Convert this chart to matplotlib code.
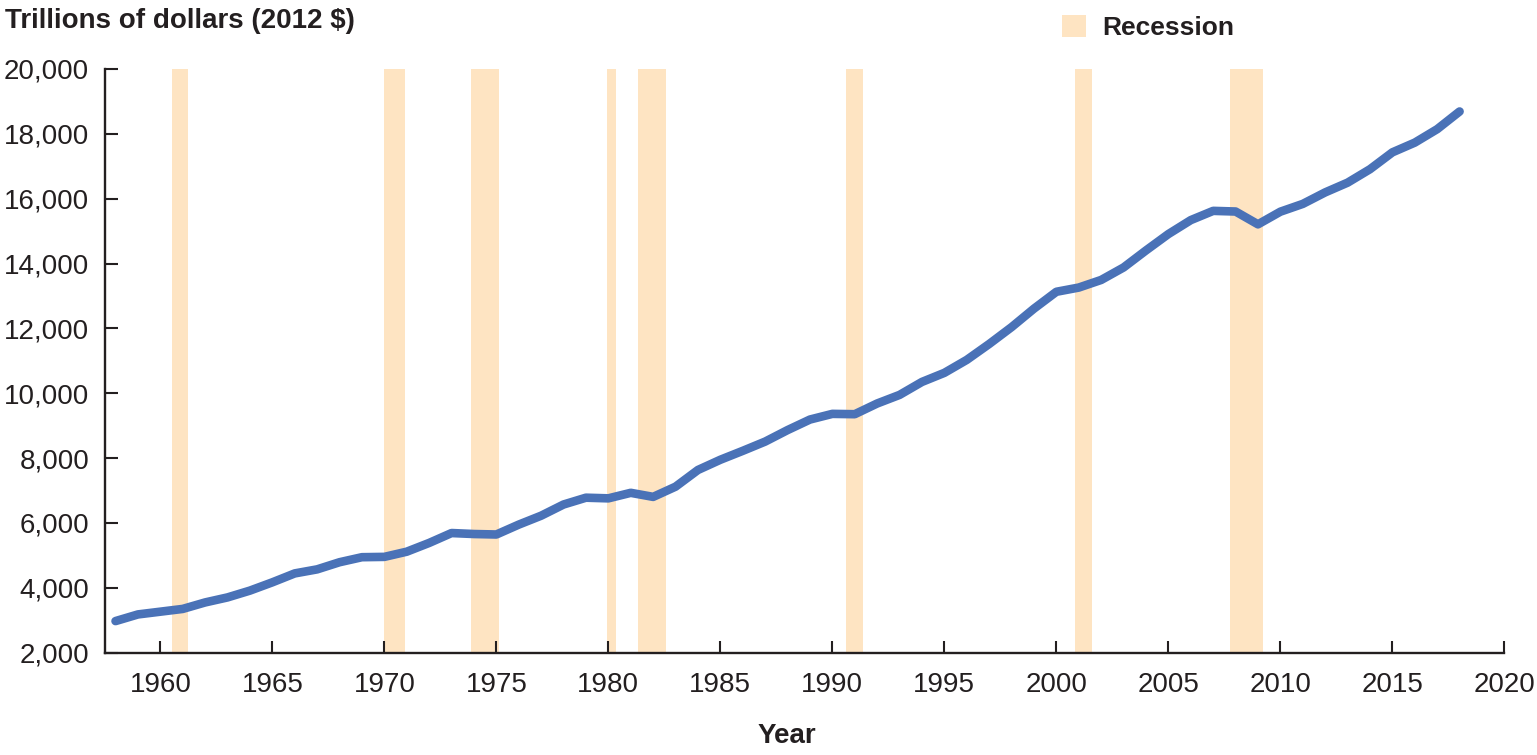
import numpy as np
import matplotlib
matplotlib.use("Agg")
import matplotlib.pyplot as plt
from matplotlib.patches import Patch
from matplotlib.ticker import StrMethodFormatter
from matplotlib import font_manager

# Real GDP, billions of 2012 dollars (axis says trillions, kept as in source)
years = list(range(1958, 2019))
gdp = [2975, 3180, 3265, 3350, 3550, 3705, 3915, 4170, 4445, 4570,
       4790, 4945, 4955, 5115, 5385, 5690, 5660, 5645, 5950, 6225,
       6570, 6780, 6760, 6930, 6805, 7120, 7635, 7950, 8225, 8510,
       8865, 9190, 9365, 9355, 9685, 9950, 10350, 10630, 11030, 11520,
       12040, 12610, 13130, 13260, 13495, 13880, 14405, 14910, 15340, 15625,
       15605, 15210, 15600, 15840, 16195, 16495, 16910, 17430, 17730, 18145,
       18690]

# recession bands (start, end) in years
rec_start = [1960.52, 1969.99, 1973.87, 1979.96, 1981.31, 1990.63, 2000.84, 2007.76]
rec_end   = [1961.24, 1970.91, 1975.12, 1980.36, 1982.56, 1991.36, 2001.57, 2009.21]

xticks = list(range(1960, 2021, 5))
yticks = list(range(2000, 20001, 2000))

line_col = "#4A72B7"
band_col = "#FEE4C2"
ink = "#231F20"

# pick an Arial-like font if it is there
names = set(f.name for f in font_manager.fontManager.ttflist)
fam = "Liberation Sans" if "Liberation Sans" in names else "DejaVu Sans"
plt.rcParams["font.family"] = [fam, "DejaVu Sans"]
plt.rcParams["text.color"] = ink

fig = plt.figure(figsize=(15.37, 7.55), dpi=100)
ax = fig.add_axes([105 / 1537, 1 - 652.7 / 755, (1504.4 - 105) / 1537, (652.7 - 69) / 755])

for s, e in zip(rec_start, rec_end):
    ax.axvspan(s, e, color=band_col, lw=0, zorder=1)

ax.plot(years, gdp, color=line_col, lw=6.2, solid_capstyle="round",
        solid_joinstyle="round", zorder=3)

ax.set_xlim(1957.53, 2020)
ax.set_ylim(2000, 20000)
ax.set_xticks(xticks)
ax.set_yticks(yticks)
ax.yaxis.set_major_formatter(StrMethodFormatter("{x:,.0f}"))

for side in ["top", "right"]:
    ax.spines[side].set_visible(False)
for side in ["left", "bottom"]:
    ax.spines[side].set_linewidth(1.7)
    ax.spines[side].set_color(ink)
    ax.spines[side].set_zorder(4)

ax.tick_params(axis="both", direction="in", length=9, width=1.5, color=ink,
               labelsize=20, labelcolor=ink)
ax.tick_params(axis="x", pad=14)
ax.tick_params(axis="y", pad=11.5)

# title / axis label
fig.text(5 / 1537, 1 - 27.7 / 755, "Trillions of dollars (2012 $)", fontsize=20,
         fontweight="bold", ha="left", va="baseline")
fig.text(787 / 1537, 1 - 743 / 755, "Year", fontsize=20, fontweight="bold",
         ha="center", va="baseline")

# legend
leg = fig.legend(handles=[Patch(facecolor=band_col, edgecolor="none", label="Recession")],
                 loc="center left", bbox_to_anchor=(1061.7 / 1537, 1 - 27.5 / 755),
                 frameon=False, borderpad=0, borderaxespad=0, handletextpad=0.6,
                 handlelength=0.93, handleheight=0.9,
                 prop={"size": 19, "weight": "bold"})

fig.savefig("out.png", dpi=100)
